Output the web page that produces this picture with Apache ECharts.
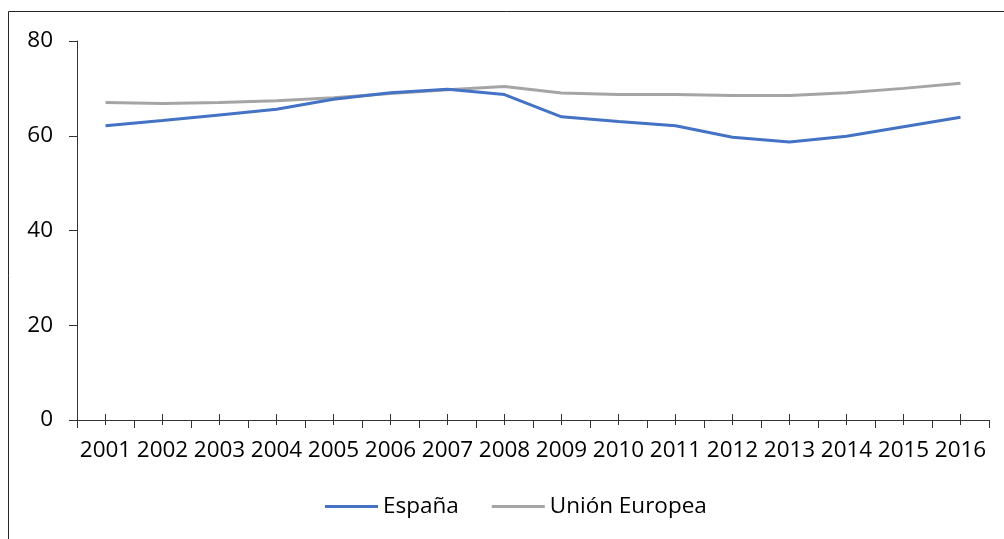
<!DOCTYPE html>
<html>
<head>
<meta charset="utf-8">
<style>
  html, body { margin: 0; padding: 0; background: #fff; }
  #chart { width: 1004px; height: 539px; }
</style>
<script src="https://cdn.jsdelivr.net/npm/echarts@6/dist/echarts.min.js"></script>
</head>
<body>
<div id="chart"></div>
<script>
// Years on the category axis
const years = ['2001','2002','2003','2004','2005','2006','2007','2008',
               '2009','2010','2011','2012','2013','2014','2015','2016'];
// Series values
const espana = [62.1, 63.2, 64.4, 65.6, 67.7, 69.1, 69.8, 68.7,
                64.0, 63.0, 62.1, 59.7, 58.7, 59.9, 61.9, 63.9];
const unionEuropea = [67.0, 66.8, 67.0, 67.4, 68.0, 68.9, 69.7, 70.4,
                      69.0, 68.7, 68.7, 68.5, 68.5, 69.1, 70.0, 71.1];
// Value axis ticks
const yTicks = { min: 0, max: 80, interval: 20 };

const FONT = 'Open Sans';
const FONT_SIZE = 22.5;
const AXIS_COLOR = '#333333';

const chart = echarts.init(document.getElementById('chart'), null, { renderer: 'canvas' });

const baseX = {
  type: 'category',
  data: years,
  boundaryGap: true,
  gridIndex: 0
};

chart.setOption({
  animation: false,
  backgroundColor: '#fff',
  textStyle: { fontFamily: FONT },
  graphic: [{
    type: 'rect',
    shape: { x: 8.5, y: 11.5, width: 1200, height: 700 },
    style: { fill: 'none', stroke: '#262626', lineWidth: 1 },
    silent: true,
    z: -1
  }],
  grid: { left: 77, right: 15, top: 41, bottom: 119, containLabel: false },
  legend: {
    bottom: 16,
    left: 320,
    itemWidth: 53,
    itemHeight: 3,
    itemGap: 33,
    icon: 'rect',
    textStyle: { fontFamily: FONT, fontSize: FONT_SIZE, color: '#000', padding: [0, 0, 0, 0] },
    data: ['España', 'Unión Europea']
  },
  xAxis: [
    Object.assign({}, baseX, {
      axisLine: { show: true, lineStyle: { color: AXIS_COLOR, width: 1 } },
      axisTick: { show: true, inside: false, length: 8, lineStyle: { color: AXIS_COLOR } },
      axisLabel: { interval: 0, margin: 19, fontFamily: FONT, fontSize: FONT_SIZE, color: '#000' },
      splitLine: { show: false }
    }),
    Object.assign({}, baseX, {
      position: 'bottom',
      axisLine: { show: false },
      axisTick: { show: true, inside: true, alignWithLabel: true, interval: 0, length: 6, lineStyle: { color: AXIS_COLOR } },
      axisLabel: { show: false },
      splitLine: { show: false }
    }),
    Object.assign({}, baseX, {
      position: 'bottom',
      axisLine: { show: false },
      axisTick: { show: true, inside: false, alignWithLabel: true, interval: 0, length: 5, lineStyle: { color: AXIS_COLOR } },
      axisLabel: { show: false },
      splitLine: { show: false }
    })
  ],
  yAxis: {
    type: 'value',
    min: yTicks.min,
    max: yTicks.max,
    interval: yTicks.interval,
    axisLine: { show: true, lineStyle: { color: AXIS_COLOR, width: 1 } },
    axisTick: { show: true, inside: false, length: 8, lineStyle: { color: AXIS_COLOR } },
    axisLabel: { margin: 24, fontFamily: FONT, fontSize: FONT_SIZE, color: '#000' },
    splitLine: { show: false }
  },
  series: [
    {
      name: 'España',
      type: 'line',
      data: espana,
      xAxisIndex: 0,
      symbol: 'none',
      lineStyle: { color: '#4472C4', width: 3 },
      itemStyle: { color: '#4472C4' },
      z: 3
    },
    {
      name: 'Unión Europea',
      type: 'line',
      data: unionEuropea,
      xAxisIndex: 0,
      symbol: 'none',
      lineStyle: { color: '#A5A5A5', width: 3 },
      itemStyle: { color: '#A5A5A5' },
      z: 2
    }
  ]
});
</script>
</body>
</html>
